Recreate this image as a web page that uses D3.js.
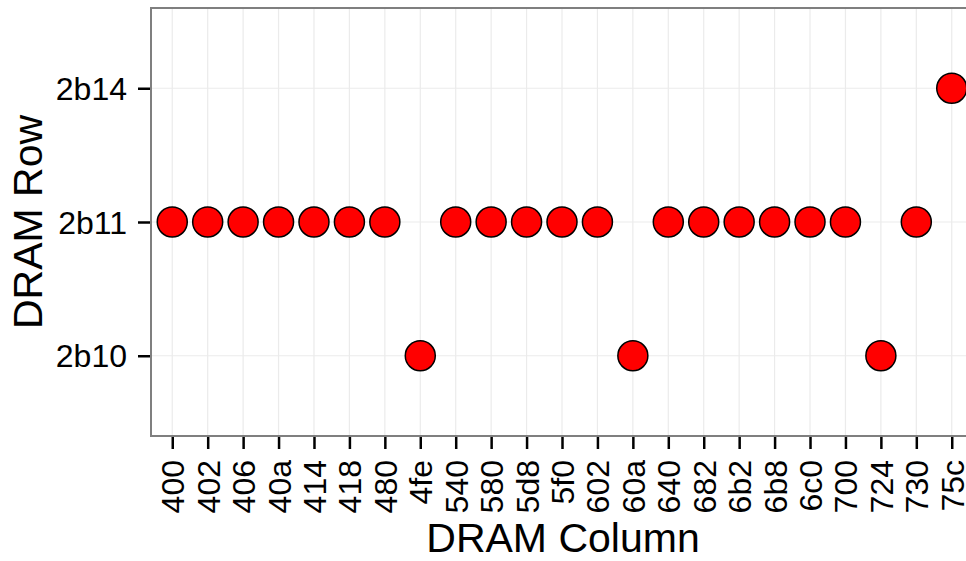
<!DOCTYPE html>
<html>
<head>
<meta charset="utf-8">
<script src="https://cdn.jsdelivr.net/npm/d3@7"></script>
<style>
  body { margin: 0; background: #fff; }
  text { font-family: "Liberation Sans", Arial, sans-serif; }
</style>
</head>
<body>
<div id="chart"></div>
<script>
// columns on the x axis, in order
const columns = ["400", "402", "406", "40a", "414", "418", "480", "4fe", "540", "580", "5d8", "5f0",
    "602", "60a", "640", "682", "6b2", "6b8", "6c0", "700", "724", "730", "75c"];
// rows on the y axis, bottom to top
const rows = ["2b10", "2b11", "2b14"];
// row for each column
const pointRows = ["2b11", "2b11", "2b11", "2b11", "2b11", "2b11", "2b11", "2b10", "2b11", "2b11", "2b11", "2b11",
    "2b11", "2b10", "2b11", "2b11", "2b11", "2b11", "2b11", "2b11", "2b10", "2b11", "2b14"];

const width = 966, height = 561;
const margin = { top: 8, right: -7, bottom: 125, left: 151 };
const innerW = width - margin.left - margin.right;
const innerH = height - margin.top - margin.bottom;

const svg = d3.select("#chart").append("svg")
    .attr("width", width)
    .attr("height", height);

const g = svg.append("g").attr("transform", `translate(${margin.left},${margin.top})`);

// discrete scales with ggplot-like 0.6 expansion
const x = d3.scalePoint().domain(columns).range([0, innerW]).padding(0.6);
const y = d3.scalePoint().domain(rows).range([innerH, 0]).padding(0.6);

// grid
g.selectAll(".vgrid").data(columns).enter().append("line")
    .attr("x1", d => x(d)).attr("x2", d => x(d))
    .attr("y1", 0).attr("y2", innerH)
    .attr("stroke", "#ebebeb").attr("stroke-width", 1.2);
g.selectAll(".hgrid").data(rows).enter().append("line")
    .attr("x1", 0).attr("x2", innerW)
    .attr("y1", d => y(d)).attr("y2", d => y(d))
    .attr("stroke", "#ebebeb").attr("stroke-width", 1.2);

// points
g.selectAll("circle").data(columns).enter().append("circle")
    .attr("cx", d => x(d))
    .attr("cy", (d, i) => y(pointRows[i]))
    .attr("r", 15)
    .attr("fill", "#ff0000")
    .attr("stroke", "#000")
    .attr("stroke-width", 1.5);

// panel border
g.append("rect")
    .attr("x", 0).attr("y", 0)
    .attr("width", innerW).attr("height", innerH)
    .attr("fill", "none")
    .attr("stroke", "#7f7f7f")
    .attr("stroke-width", 2);

// axes
const xAxis = g.append("g")
    .attr("transform", `translate(0,${innerH + 1})`)
    .call(d3.axisBottom(x).tickSize(12).tickPadding(8));
xAxis.select(".domain").remove();
xAxis.selectAll(".tick line").attr("stroke", "#000").attr("stroke-width", 2.5);
xAxis.selectAll(".tick text")
    .attr("font-size", 32)
    .attr("fill", "#000")
    .attr("transform", "rotate(-90)")
    .attr("text-anchor", "end")
    .attr("x", -23)
    .attr("y", 0)
    .attr("dy", "0.36em");

const yAxis = g.append("g")
    .attr("transform", "translate(-1,0)")
    .call(d3.axisLeft(y).tickSize(12).tickPadding(11));
yAxis.select(".domain").remove();
yAxis.selectAll(".tick line").attr("stroke", "#000").attr("stroke-width", 2.5);
yAxis.selectAll(".tick text").attr("font-size", 32).attr("fill", "#000").attr("dy", "0.35em");

// titles
svg.append("text")
    .attr("x", 563)
    .attr("y", 552)
    .attr("text-anchor", "middle")
    .attr("font-size", 41)
    .text("DRAM Column");

svg.append("text")
    .attr("transform", `translate(42,${margin.top + innerH / 2}) rotate(-90)`)
    .attr("text-anchor", "middle")
    .attr("font-size", 41)
    .text("DRAM Row");
</script>
</body>
</html>
